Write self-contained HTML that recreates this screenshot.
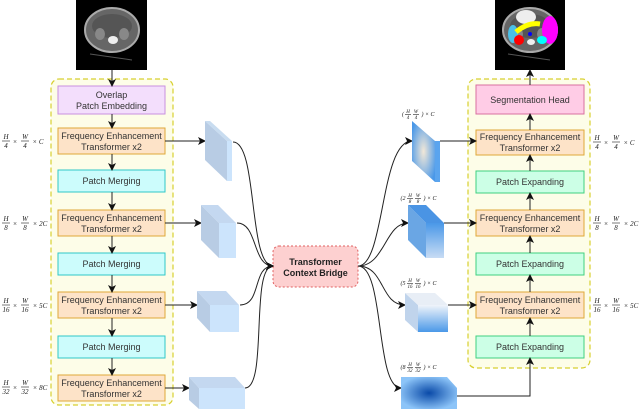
<!DOCTYPE html>
<html><head><meta charset="utf-8"><style>
body{margin:0;background:#fff}
svg{display:block}
text{font-family:"Liberation Sans",sans-serif;font-size:9px;fill:#333}
.m text{font-family:"Liberation Serif",serif;font-size:7px;font-style:italic;fill:#222}
.m line{stroke:#222;stroke-width:0.6}
</style></head><body>
<svg width="640" height="409" viewBox="0 0 640 409" xmlns="http://www.w3.org/2000/svg">
<defs>
<marker id="a" markerWidth="8" markerHeight="8" refX="7" refY="4" orient="auto" markerUnits="userSpaceOnUse"><path d="M0,0 L8,4 L0,8 L2,4 z" fill="#111"/></marker>
<radialGradient id="g1" cx="0.5" cy="0.5" r="0.6"><stop offset="0" stop-color="#f2e8d8"/><stop offset="1" stop-color="#4a98e8"/></radialGradient>
<linearGradient id="g2" x1="0" y1="0" x2="0" y2="1"><stop offset="0" stop-color="#4a98e8"/><stop offset="1" stop-color="#c8dcf4"/></linearGradient>
<linearGradient id="g3" x1="0" y1="0" x2="0" y2="1"><stop offset="0" stop-color="#f0f4fa"/><stop offset="1" stop-color="#4a98e8"/></linearGradient>
<radialGradient id="g4" cx="0.5" cy="0.5" r="0.55"><stop offset="0" stop-color="#0a4aa8"/><stop offset="1" stop-color="#8cc4f8"/></radialGradient>
<g id="ct">
<ellipse cx="0" cy="0" rx="27" ry="22" fill="#666" stroke="#aaa" stroke-width="2"/>
<ellipse cx="0" cy="-4" rx="20" ry="12" fill="#555"/>
<ellipse cx="-12" cy="4" rx="5" ry="6" fill="#888"/>
<ellipse cx="12" cy="4" rx="5" ry="6" fill="#888"/>
<path d="M-22,24 L20,30" stroke="#555" stroke-width="1"/>
</g>
</defs>
<!-- CT images -->
<rect x="76" y="0" width="71" height="70" fill="#000"/>
<use href="#ct" x="112" y="30"/>
<ellipse cx="113" cy="40" rx="5" ry="4" fill="#eee"/>
<rect x="495" y="0" width="70" height="70" fill="#000"/>
<use href="#ct" x="530" y="30"/>
<ellipse cx="526" cy="17" rx="10" ry="7" fill="#eee"/>
<ellipse cx="550" cy="30" rx="8" ry="14" fill="#f0f"/>
<ellipse cx="513" cy="34" rx="5" ry="9" fill="#4ac0e8"/>
<path d="M516,32 Q528,22 540,24" stroke="#ff0" stroke-width="5" fill="none"/>
<ellipse cx="519" cy="40" rx="5" ry="5" fill="#f00"/>
<ellipse cx="542" cy="40" rx="5" ry="4" fill="#0ff"/>
<circle cx="530" cy="34" r="2" fill="#00f"/>
<ellipse cx="531" cy="42" rx="4" ry="3" fill="#eee"/>
<!-- panels -->
<rect x="51" y="79" width="122" height="326" rx="8" fill="#fdfde8" stroke="#d8d030" stroke-width="1.2" stroke-dasharray="5,3"/>
<rect x="468" y="79" width="122" height="289" rx="8" fill="#fdfde8" stroke="#d8d030" stroke-width="1.2" stroke-dasharray="5,3"/>
<g stroke-width="1">
<rect x="58" y="86" width="107" height="28" fill="#f3defc" stroke="#c890e0"/>
<rect x="58" y="128" width="107" height="26" fill="#fde3c8" stroke="#e0a838"/>
<rect x="58" y="170" width="107" height="22" fill="#ccfcfc" stroke="#30c8c8"/>
<rect x="58" y="210" width="107" height="26" fill="#fde3c8" stroke="#e0a838"/>
<rect x="58" y="253" width="107" height="22" fill="#ccfcfc" stroke="#30c8c8"/>
<rect x="58" y="292" width="107" height="26" fill="#fde3c8" stroke="#e0a838"/>
<rect x="58" y="336" width="107" height="22" fill="#ccfcfc" stroke="#30c8c8"/>
<rect x="58" y="375" width="107" height="26" fill="#fde3c8" stroke="#e0a838"/>
<rect x="476" y="85" width="108" height="29" fill="#ffcce6" stroke="#d870a0"/>
<rect x="476" y="130" width="108" height="25" fill="#fde3c8" stroke="#e0a838"/>
<rect x="476" y="171" width="108" height="22" fill="#ccffe6" stroke="#40d080"/>
<rect x="476" y="210" width="108" height="26" fill="#fde3c8" stroke="#e0a838"/>
<rect x="476" y="253" width="108" height="22" fill="#ccffe6" stroke="#40d080"/>
<rect x="476" y="292" width="108" height="26" fill="#fde3c8" stroke="#e0a838"/>
<rect x="476" y="336" width="108" height="22" fill="#ccffe6" stroke="#40d080"/>
<rect x="273" y="246" width="85" height="41" rx="6" fill="#fdd0d0" stroke="#e06060" stroke-dasharray="2,2"/>
</g>
<g text-anchor="middle">
<text x="111.5" y="98">Overlap</text><text x="111.5" y="109">Patch Embedding</text>
<text x="111.5" y="139">Frequency Enhancement</text><text x="111.5" y="150">Transformer x2</text>
<text x="111.5" y="184">Patch Merging</text>
<text x="111.5" y="221">Frequency Enhancement</text><text x="111.5" y="232">Transformer x2</text>
<text x="111.5" y="267">Patch Merging</text>
<text x="111.5" y="303">Frequency Enhancement</text><text x="111.5" y="314">Transformer x2</text>
<text x="111.5" y="350">Patch Merging</text>
<text x="111.5" y="386">Frequency Enhancement</text><text x="111.5" y="397">Transformer x2</text>
<text x="530" y="103">Segmentation Head</text>
<text x="530" y="140">Frequency Enhancement</text><text x="530" y="151">Transformer x2</text>
<text x="530" y="185">Patch Expanding</text>
<text x="530" y="221">Frequency Enhancement</text><text x="530" y="232">Transformer x2</text>
<text x="530" y="267">Patch Expanding</text>
<text x="530" y="303">Frequency Enhancement</text><text x="530" y="314">Transformer x2</text>
<text x="530" y="350">Patch Expanding</text>
<text x="315.5" y="265" style="font-weight:bold;fill:#222">Transformer</text>
<text x="315.5" y="276" style="font-weight:bold;fill:#222">Context Bridge</text>
</g>
<g stroke="#222" stroke-width="1" marker-end="url(#a)" fill="none">
<path d="M112,70 V86"/><path d="M112,114 V128"/><path d="M112,154 V170"/><path d="M112,192 V210"/>
<path d="M112,236 V253"/><path d="M112,275 V292"/><path d="M112,318 V336"/><path d="M112,358 V375"/>
<path d="M530,85 V70"/><path d="M530,130 V114"/><path d="M530,171 V155"/><path d="M530,210 V193"/>
<path d="M530,253 V236"/><path d="M530,292 V275"/><path d="M530,336 V318"/><path d="M457,396 H530 V358"/>
<path d="M165,141 H205"/><path d="M165,223 H201"/><path d="M165,305 H197"/><path d="M165,388 H189"/>
<path d="M440,141 H476"/><path d="M444,223 H476"/><path d="M448,305 H476"/>
<path d="M233,142 C258,142 248,266 273,266"/>
<path d="M237,223 C258,223 252,266 273,266"/>
<path d="M240,305 C262,305 252,266 273,266"/>
<path d="M245,388 C268,388 250,266 273,266"/>
<path d="M358,266 C385,266 380,141 412,141"/>
<path d="M358,266 C385,266 385,223 408,223"/>
<path d="M358,266 C385,266 380,305 405,305"/>
<path d="M358,266 C385,266 375,388 401,388"/>
</g>
<polygon points="205,121 227,141 227,181 205,160" fill="#b8cce4"/>
<polygon points="227,141 232,141 232,181 227,181" fill="#cce4fc"/>
<polygon points="205,121 210,121 232,141 227,141" fill="#c8dcf0"/>
<polygon points="201,205 219,223 219,258 201,240" fill="#b8cce4"/>
<polygon points="201,205 218,205 236,223 219,223" fill="#c4d8f0"/>
<rect x="219" y="223" width="17" height="35" fill="#cce4fc"/>
<polygon points="197,291 210,305 210,332 197,318" fill="#b8cce4"/>
<polygon points="197,291 226,291 239,305 210,305" fill="#c4d8f0"/>
<rect x="210" y="305" width="29" height="27" fill="#cce4fc"/>
<polygon points="189,377 199,388 199,409 189,400" fill="#b8cce4"/>
<polygon points="189,377 235,377 245,388 199,388" fill="#c4d8f0"/>
<rect x="199" y="388" width="46" height="21" fill="#cce4fc"/>
<polygon points="412,121 435,141 435,182 412,161" fill="url(#g1)"/>
<polygon points="435,141 440,141 440,182 435,182" fill="#5aa4ee"/>
<polygon points="408,205 426,223 426,258 408,240" fill="#6aa6e4"/>
<polygon points="408,205 426,205 444,223 426,223" fill="#4a94e4"/>
<rect x="426" y="223" width="18" height="35" fill="url(#g2)"/>
<polygon points="405,293 418,305 418,332 405,320" fill="#c0d4ec"/>
<polygon points="405,293 435,293 448,305 418,305" fill="#e8eef6"/>
<rect x="418" y="305" width="30" height="27" fill="url(#g3)"/>
<polygon points="401,377 401,409 457,409 457,388 447,377" fill="url(#g4)"/>
<!-- math labels -->
<g class="m" text-anchor="middle">
<g transform="translate(0,141)"><text x="6" y="-2">H</text><line x1="2" x2="10" y1="0" y2="0"/><text x="6" y="7">4</text><text x="15" y="3">×</text><text x="25" y="-2">W</text><line x1="21" x2="29" y1="0" y2="0"/><text x="25" y="7">4</text><text x="38" y="3">× C</text></g>
<g transform="translate(0,223)"><text x="6" y="-2">H</text><line x1="2" x2="10" y1="0" y2="0"/><text x="6" y="7">8</text><text x="15" y="3">×</text><text x="25" y="-2">W</text><line x1="21" x2="29" y1="0" y2="0"/><text x="25" y="7">8</text><text x="40" y="3">× 2C</text></g>
<g transform="translate(0,305)"><text x="6" y="-2">H</text><line x1="2" x2="10" y1="0" y2="0"/><text x="6" y="7">16</text><text x="15" y="3">×</text><text x="25" y="-2">W</text><line x1="21" x2="29" y1="0" y2="0"/><text x="25" y="7">16</text><text x="40" y="3">× 5C</text></g>
<g transform="translate(0,387)"><text x="6" y="-2">H</text><line x1="2" x2="10" y1="0" y2="0"/><text x="6" y="7">32</text><text x="15" y="3">×</text><text x="25" y="-2">W</text><line x1="21" x2="29" y1="0" y2="0"/><text x="25" y="7">32</text><text x="40" y="3">× 8C</text></g>
<g transform="translate(591,142)"><text x="6" y="-2">H</text><line x1="2" x2="10" y1="0" y2="0"/><text x="6" y="7">4</text><text x="15" y="3">×</text><text x="25" y="-2">W</text><line x1="21" x2="29" y1="0" y2="0"/><text x="25" y="7">4</text><text x="38" y="3">× C</text></g>
<g transform="translate(591,223)"><text x="6" y="-2">H</text><line x1="2" x2="10" y1="0" y2="0"/><text x="6" y="7">8</text><text x="15" y="3">×</text><text x="25" y="-2">W</text><line x1="21" x2="29" y1="0" y2="0"/><text x="25" y="7">8</text><text x="40" y="3">× 2C</text></g>
<g transform="translate(591,305)"><text x="6" y="-2">H</text><line x1="2" x2="10" y1="0" y2="0"/><text x="6" y="7">16</text><text x="15" y="3">×</text><text x="25" y="-2">W</text><line x1="21" x2="29" y1="0" y2="0"/><text x="25" y="7">16</text><text x="40" y="3">× 5C</text></g>
</g>
<g class="m" text-anchor="middle" style="font-size:5px">
<g transform="translate(402,114)"><text x="1" y="2" style="font-size:6px">(</text><text x="6" y="-1" style="font-size:5px">H</text><line x1="3" x2="9" y1="0.5" y2="0.5"/><text x="6" y="5" style="font-size:5px">4</text><text x="14" y="-1" style="font-size:5px">W</text><line x1="11" x2="17" y1="0.5" y2="0.5"/><text x="14" y="5" style="font-size:5px">4</text><text x="26" y="2" style="font-size:6px">) × C</text></g>
<g transform="translate(400,198)"><text x="3" y="2" style="font-size:6px">(2</text><text x="10" y="-1" style="font-size:5px">H</text><line x1="7" x2="13" y1="0.5" y2="0.5"/><text x="10" y="5" style="font-size:5px">8</text><text x="18" y="-1" style="font-size:5px">W</text><line x1="15" x2="21" y1="0.5" y2="0.5"/><text x="18" y="5" style="font-size:5px">8</text><text x="30" y="2" style="font-size:6px">) × C</text></g>
<g transform="translate(400,283)"><text x="3" y="2" style="font-size:6px">(5</text><text x="10" y="-1" style="font-size:5px">H</text><line x1="7" x2="13" y1="0.5" y2="0.5"/><text x="10" y="5" style="font-size:5px">16</text><text x="18" y="-1" style="font-size:5px">W</text><line x1="15" x2="21" y1="0.5" y2="0.5"/><text x="18" y="5" style="font-size:5px">16</text><text x="30" y="2" style="font-size:6px">) × C</text></g>
<g transform="translate(400,367)"><text x="3" y="2" style="font-size:6px">(8</text><text x="10" y="-1" style="font-size:5px">H</text><line x1="7" x2="13" y1="0.5" y2="0.5"/><text x="10" y="5" style="font-size:5px">32</text><text x="18" y="-1" style="font-size:5px">W</text><line x1="15" x2="21" y1="0.5" y2="0.5"/><text x="18" y="5" style="font-size:5px">32</text><text x="30" y="2" style="font-size:6px">) × C</text></g>
</g>
</svg>
</body></html>
